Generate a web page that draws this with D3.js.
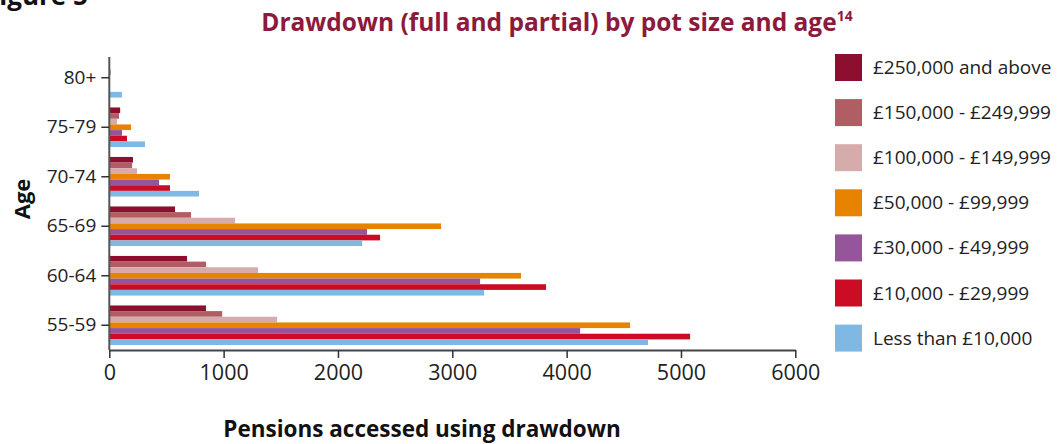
<!DOCTYPE html>
<html>
<head>
<meta charset="utf-8">
<script src="https://cdn.jsdelivr.net/npm/d3@7"></script>
<style>
  html, body { margin: 0; padding: 0; background: #fff; }
  svg { display: block; font-family: "Open Sans", "Noto Sans", sans-serif; }
</style>
</head>
<body>
<svg id="chart" width="1061" height="444"></svg>
<script>
// Age bands, drawn from the top of the chart down
const ages = ["80+", "75-79", "70-74", "65-69", "60-64", "55-59"];

// Pot size bands, in the order they appear inside each age group (top to bottom)
const potSizes = [
  "£250,000 and above",
  "£150,000 - £249,999",
  "£100,000 - £149,999",
  "£50,000 - £99,999",
  "£30,000 - £49,999",
  "£10,000 - £29,999",
  "Less than £10,000"
];

const potColors = ["#8c0f2f", "#b05d63", "#d6abab", "#e88300", "#96549b", "#cc0b25", "#7fb9e3"];

// Pensions accessed using drawdown, one array per pot size, indexed like `ages`
const over250k   = [5,   95,  207, 575,  680,  846];
const k150to250  = [3,   85,  199, 715,  846,  987];
const k100to150  = [15,  67,  242, 1100, 1301, 1468];
const k50to100   = [3,   190, 531, 2902, 3601, 4555];
const k30to50    = [2,   111, 435, 2254, 3243, 4118];
const k10to30    = [3,   155, 531, 2368, 3820, 5080];
const under10k   = [110, 312, 785, 2211, 3278, 4712];

const seriesValues = [over250k, k150to250, k100to150, k50to100, k30to50, k10to30, under10k];

const xTicks = [0, 1000, 2000, 3000, 4000, 5000, 6000];

const svg = d3.select("#chart");
const font = '"Open Sans", "Noto Sans", sans-serif';

const x = d3.scaleLinear().domain([0, 6000]).range([109.3, 795.3]);
const y = d3.scaleBand().domain(ages).range([53, 350]).paddingInner(0.2).paddingOuter(0.1);
const yInner = d3.scaleBand().domain(d3.range(potSizes.length)).range([0, y.bandwidth()]);

// Bars
const groups = svg.append("g").selectAll("g")
  .data(ages)
  .join("g")
  .attr("transform", d => `translate(0,${y(d)})`);

groups.selectAll("rect")
  .data((age, i) => seriesValues.map((vals, s) => ({ s, v: vals[i] })))
  .join("rect")
  .attr("x", x(0))
  .attr("y", d => yInner(d.s))
  .attr("width", d => x(d.v) - x(0))
  .attr("height", yInner.bandwidth())
  .attr("fill", d => potColors[d.s]);

// X axis
const xAxis = svg.append("g")
  .attr("transform", `translate(0,${350})`)
  .call(d3.axisBottom(x).tickValues(xTicks).tickFormat(d3.format("d")).tickSize(8).tickSizeOuter(0).tickPadding(7));
xAxis.select(".domain").attr("stroke", "#444").attr("stroke-width", 2);
xAxis.selectAll(".tick line").attr("stroke", "#333").attr("stroke-width", 1.5);
xAxis.selectAll("text").attr("font-family", font).attr("font-size", 21.5).attr("fill", "#222");

// Y axis
const yAxis = svg.append("g")
  .attr("transform", `translate(${x(0)},0)`)
  .call(d3.axisLeft(y).tickSize(8).tickSizeOuter(0).tickPadding(5));
yAxis.select(".domain").attr("stroke", "#555").attr("stroke-width", 2).attr("d", `M0,57V350`);
yAxis.selectAll(".tick line").attr("stroke", "#333").attr("stroke-width", 1.5);
yAxis.selectAll("text").attr("font-family", font).attr("font-size", 19).attr("fill", "#222");

// Titles
svg.append("text")
  .attr("x", -15).attr("y", 5)
  .attr("font-family", font).attr("font-size", 26).attr("font-weight", "bold").attr("fill", "#111")
  .text("Figure 5");

const title = svg.append("text")
  .attr("x", 557).attr("y", 31)
  .attr("text-anchor", "middle")
  .attr("font-family", font).attr("font-size", 24.5).attr("font-weight", "bold").attr("fill", "#8c1a3c");
title.append("tspan").text("Drawdown (full and partial) by pot size and age");
title.append("tspan").attr("dy", -10).attr("font-size", 14).text("14");

svg.append("text")
  .attr("transform", "translate(30,199) rotate(-90)")
  .attr("text-anchor", "middle")
  .attr("font-family", font).attr("font-size", 22).attr("font-weight", "bold").attr("fill", "#111")
  .text("Age");

svg.append("text")
  .attr("x", 422).attr("y", 437)
  .attr("text-anchor", "middle")
  .attr("font-family", font).attr("font-size", 22.5).attr("font-weight", "bold").attr("fill", "#111")
  .text("Pensions accessed using drawdown");

// Legend
const legend = svg.append("g").selectAll("g")
  .data(potSizes)
  .join("g")
  .attr("transform", (d, i) => `translate(835,${54 + i * 45.1})`);
legend.append("rect").attr("width", 27).attr("height", 27).attr("fill", (d, i) => potColors[i]);
legend.append("text")
  .attr("x", 38).attr("y", 20)
  .attr("font-family", font).attr("font-size", 19).attr("fill", "#222")
  .text(d => d);
</script>
</body>
</html>
